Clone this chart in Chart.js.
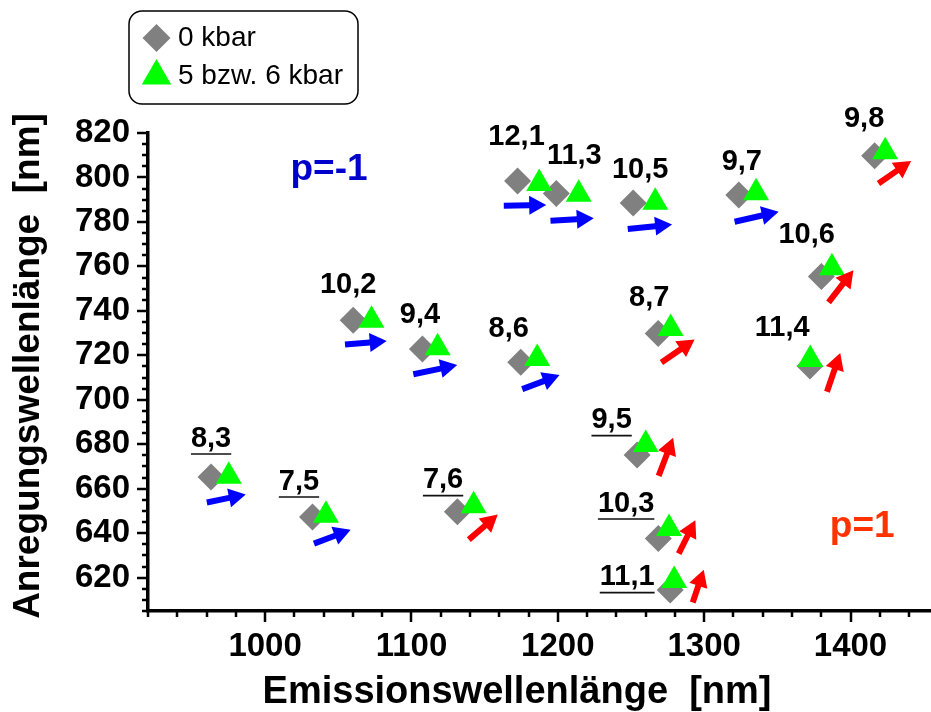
<!DOCTYPE html>
<html>
<head>
<meta charset="utf-8">
<script src="https://cdn.jsdelivr.net/npm/chart.js@4.4.1/dist/chart.umd.min.js"></script>
<style>
  html, body { margin: 0; padding: 0; background: #fff; overflow: hidden; }
  #wrap { width: 931px; height: 712px; }
</style>
</head>
<body>
<div id="wrap"><canvas id="c" width="931" height="712"></canvas></div>
<script>
// Nanotube chiralities (n,m)
const tubes = ['12,1','11,3','10,5','9,7','9,8','10,6','10,2','9,4','8,6','8,7','11,4','8,3','7,5','7,6','9,5','10,3','11,1'];
// 0 kbar: emission / excitation wavelengths [nm]
const emission0   = [1172.5,1199.0,1251.5,1323.7,1416.5,1380.1,1060.2,1107.5,1174.7,1268.6,1372.3, 963.1,1032.4,1131.4,1254.2,1268.7,1276.8];
const excitation0 = [ 798.4, 792.8, 788.5, 792.1, 809.8, 755.5, 735.8, 722.9, 716.9, 729.8, 715.2, 665.3, 647.3, 649.6, 675.2, 637.6, 614.4];
// 5 bzw. 6 kbar
const emissionP   = [1187.3,1214.3,1266.6,1335.5,1423.7,1387.3,1072.7,1117.9,1185.9,1277.1,1372.5, 975.2,1041.6,1142.5,1260.1,1276.0,1279.5];
const excitationP = [ 797.3, 792.5, 788.8, 793.1, 811.6, 759.4, 735.8, 723.4, 718.6, 732.1, 718.1, 665.6, 648.1, 652.3, 679.9, 642.1, 618.7];
// family p = (n-m) mod 3 sign
const family = [-1,-1,-1,-1,1,1,-1,-1,-1,1,1,-1,-1,1,1,1,1];
// shift arrows (tail -> tip) in nm
const arrowFromX = [1163.1,1195.0,1247.8,1320.8,1419.1,1385.0,1054.6,1101.3,1175.7,1270.8,1383.9, 960.2,1033.4,1139.2,1268.9,1282.6,1292.2];
const arrowFromY = [ 787.3, 780.5, 776.8, 780.1, 797.3, 743.8, 724.9, 711.5, 704.8, 716.8, 703.6, 653.8, 635.3, 637.1, 665.8, 630.8, 608.8];
const arrowToX   = [1192.1,1224.6,1278.1,1350.9,1441.4,1402.0,1083.1,1131.3,1201.2,1293.5,1393.0, 986.8,1058.5,1159.0,1278.8,1294.0,1299.7];
const arrowToY   = [ 787.6, 781.6, 778.9, 784.6, 807.4, 758.3, 726.4, 715.6, 711.1, 727.1, 721.1, 657.4, 641.6, 648.4, 682.9, 645.8, 623.6];
// tick labels
const xTickValues = [1000, 1100, 1200, 1300, 1400];
const yTickValues = [620, 640, 660, 680, 700, 720, 740, 760, 780, 800, 820];
// axis titles
const xTitle = 'Emissionswellenlänge  [nm]';
const yTitle = 'Anregungswellenlänge  [nm]';
// family annotations (position in nm)
const familyNotes = [
  { text: 'p=-1', x: 1043.7, y: 798.8, color: '#0000CC' },
  { text: 'p=1',  x: 1408.0, y: 638.3, color: '#FF3300' }
];

// ---- layout / style ----
const FONT = "'Liberation Sans', Arial, sans-serif";
const labelOffset = [[-1,-44],[18,-37.5],[7,-33.5],[3,-33],[-10.5,-37],[-14.7,-41.3],[-5,-35],[-2.5,-33.7],
                     [-12,-33.7],[-9,-36],[-27.7,-37.5],[0,-38.4],[-13.5,-35.4],[-14.3,-31.7],[-25.5,-34.8],[-32.2,-35],[-43,-13]];
const underlined = tubes.map((t, i) => i >= 11);
const familyColor = { '-1': '#0000FF', '1': '#FF0000' };

function drawArrow(ctx, x0, y0, x1, y1, color) {
  const dx = x1 - x0, dy = y1 - y0, L = Math.hypot(dx, dy);
  const ux = dx / L, uy = dy / L, nx = -uy, ny = ux;
  const hl = 17, hw = 9.5, sw = 3;
  const bx = x1 - ux * hl, by = y1 - uy * hl;
  ctx.beginPath();
  ctx.moveTo(x0 + nx * sw, y0 + ny * sw);
  ctx.lineTo(bx + nx * sw, by + ny * sw);
  ctx.lineTo(bx + nx * hw, by + ny * hw);
  ctx.lineTo(x1, y1);
  ctx.lineTo(bx - nx * hw, by - ny * hw);
  ctx.lineTo(bx - nx * sw, by - ny * sw);
  ctx.lineTo(x0 - nx * sw, y0 - ny * sw);
  ctx.closePath();
  ctx.fillStyle = color;
  ctx.fill();
}

// minor/major tick marks pointing outward, plus axis titles
const axisDecor = {
  id: 'axisDecor',
  afterDraw(chart) {
    const { ctx, chartArea: a, scales: { x, y } } = chart;
    ctx.save();
    ctx.strokeStyle = '#000';
    ctx.lineWidth = 2.5;
    ctx.beginPath();
    for (let v = x.min; v <= x.max + 1e-6; v += 20) {
      const px = Math.round(x.getPixelForValue(v));
      const major = xTickValues.includes(v);
      ctx.moveTo(px, a.bottom); ctx.lineTo(px, a.bottom + (major ? 11 : 6));
    }
    for (let v = y.min; v <= y.max + 1e-6; v += 5) {
      const py = Math.round(y.getPixelForValue(v));
      const major = yTickValues.includes(v);
      ctx.moveTo(a.left, py); ctx.lineTo(a.left - (major ? 11 : 6), py);
    }
    ctx.stroke();

    ctx.fillStyle = '#000';
    ctx.textAlign = 'center';
    ctx.textBaseline = 'middle';
    ctx.font = `bold 38px ${FONT}`;
    ctx.fillText(xTitle, 517, 693);
    ctx.translate(28.5, 366);
    ctx.rotate(-Math.PI / 2);
    ctx.font = `bold 37px ${FONT}`;
    ctx.fillText(yTitle, 0, 0);
    ctx.restore();
  }
};

// arrows, chirality labels, family notes
const annotations = {
  id: 'annotations',
  afterDatasetsDraw(chart) {
    const { ctx, scales: { x, y } } = chart;
    ctx.save();
    tubes.forEach((t, i) => {
      drawArrow(ctx, x.getPixelForValue(arrowFromX[i]), y.getPixelForValue(arrowFromY[i]),
                     x.getPixelForValue(arrowToX[i]), y.getPixelForValue(arrowToY[i]),
                     familyColor[String(family[i])]);
    });
    ctx.font = `bold 29px ${FONT}`;
    ctx.fillStyle = '#000';
    ctx.textAlign = 'center';
    ctx.textBaseline = 'middle';
    tubes.forEach((t, i) => {
      const cx = x.getPixelForValue(emission0[i]) + labelOffset[i][0];
      const cy = y.getPixelForValue(excitation0[i]) + labelOffset[i][1];
      ctx.fillText(t, cx, cy);
      if (underlined[i]) {
        const w = ctx.measureText(t).width;
        ctx.strokeStyle = '#111';
        ctx.lineWidth = 1.6;
        ctx.beginPath();
        ctx.moveTo(cx - w / 2, cy + 15.5);
        ctx.lineTo(cx + w / 2, cy + 15.5);
        ctx.stroke();
      }
    });
    ctx.font = `bold 37px ${FONT}`;
    ctx.textBaseline = 'alphabetic';
    familyNotes.forEach(n => {
      ctx.fillStyle = n.color;
      ctx.fillText(n.text, x.getPixelForValue(n.x), y.getPixelForValue(n.y));
    });
    ctx.restore();
  }
};

// rounded legend box
const boxLegend = {
  id: 'boxLegend',
  afterDraw(chart) {
    const ctx = chart.ctx;
    const bx = 129, by = 11, bw = 229, bh = 93, r = 13;
    ctx.save();
    ctx.beginPath();
    ctx.moveTo(bx + r, by);
    ctx.arcTo(bx + bw, by, bx + bw, by + bh, r);
    ctx.arcTo(bx + bw, by + bh, bx, by + bh, r);
    ctx.arcTo(bx, by + bh, bx, by, r);
    ctx.arcTo(bx, by, bx + bw, by, r);
    ctx.closePath();
    ctx.fillStyle = '#fff';
    ctx.fill();
    ctx.strokeStyle = '#000';
    ctx.lineWidth = 1.5;
    ctx.stroke();
    const items = [
      { ds: chart.data.datasets[0], y: 38, r: 14 },
      { ds: chart.data.datasets[1], y: 76, r: 17 }
    ];
    items.forEach(it => {
      ctx.fillStyle = it.ds.backgroundColor;
      Chart.helpers.drawPoint(ctx, { pointStyle: it.ds.pointStyle, radius: it.r, rotation: 0, borderWidth: 0 }, 156.5, it.y);
      ctx.fillStyle = '#000';
      ctx.font = `28px ${FONT}`;
      ctx.textAlign = 'left';
      ctx.textBaseline = 'middle';
      ctx.fillText(it.ds.label, 178, it.y);
    });
    ctx.restore();
  }
};

const tickFont = { family: FONT, weight: 'bold', size: 33 };

new Chart(document.getElementById('c'), {
  type: 'scatter',
  data: {
    datasets: [
      {
        label: '0 kbar',
        data: emission0.map((v, i) => ({ x: v, y: excitation0[i] })),
        pointStyle: 'rectRot', pointRadius: 13.5, pointBorderWidth: 0,
        backgroundColor: '#808080', borderColor: '#808080', order: 2
      },
      {
        label: '5 bzw. 6 kbar',
        data: emissionP.map((v, i) => ({ x: v, y: excitationP[i] })),
        pointStyle: 'triangle', pointRadius: 15, pointBorderWidth: 0,
        backgroundColor: '#00FF00', borderColor: '#00FF00', order: 1
      }
    ]
  },
  options: {
    responsive: false,
    animation: false,
    events: [],
    layout: { autoPadding: false, padding: { top: 133, right: 0, left: 0, bottom: 0 } },
    plugins: { legend: { display: false }, tooltip: { enabled: false } },
    scales: {
      x: {
        type: 'linear', min: 920, max: 1455,
        afterBuildTicks: s => { s.ticks = xTickValues.map(v => ({ value: v })); },
        afterFit: s => { s.height = 101; s.paddingLeft = 0; s.paddingRight = 0; },
        grid: { display: false, drawTicks: false },
        border: { display: true, color: '#000', width: 3.5 },
        ticks: { padding: 16, color: '#000', font: tickFont, maxRotation: 0, autoSkip: false,
                 callback: v => String(v) }
      },
      y: {
        type: 'linear', min: 605, max: 820,
        afterBuildTicks: s => { s.ticks = yTickValues.map(v => ({ value: v })); },
        afterFit: s => { s.width = 148; s.paddingTop = 0; s.paddingBottom = 0; },
        grid: { display: false, drawTicks: false },
        border: { display: true, color: '#000', width: 3.5 },
        ticks: { padding: 18, color: '#000', font: tickFont, autoSkip: false,
                 callback: v => String(v) }
      }
    }
  },
  plugins: [axisDecor, annotations, boxLegend]
});
</script>
</body>
</html>
